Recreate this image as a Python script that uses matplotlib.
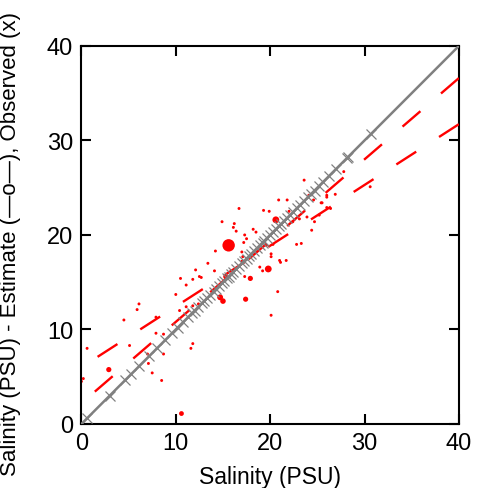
import matplotlib
matplotlib.use("Agg")
import matplotlib.pyplot as plt
import numpy as np

# observed salinity (x) vs estimate (y) for each sample; weight sets dot size
obs_x = [15.6,
         20.6, 19.8, 17.9, 15.3, 14.7, 15.0, 17.4, 2.9, 10.6,
         23.6, 20.9, 21.8, 16.7, 19.3, 19.9, 14.9, 16.2, 16.1, 16.4,
         18.2, 18.5, 17.3, 17.5, 23.1, 23.9, 24.7, 25.2, 22.8, 23.3,
         14.2, 17.0, 20.1, 20.1, 21.0, 21.1, 21.7, 13.4, 12.1, 14.1,
         18.9, 19.2, 17.3, 10.5, 11.8, 12.5, 12.7, 11.1, 20.8, 10.0,
         6.1, 5.9, 10.4, 11.1, 11.8, 12.4, 4.5, 7.9, 20.1, 7.9,
         8.7, 5.1, 11.8, 11.6, 0.6, 0.2, 0.0, 7.1, 7.0, 8.7,
         7.5, 8.5, 17.2, 24.6, 24.1, 25.5, 26.0, 22.0, 22.4, 24.4,
         19.6, 20.3, 17.1, 17.0, 27.8, 30.6, 26.0, 26.9, 25.4, 26.0,
         26.4]
est_y = [18.9,
         21.6, 16.4, 15.4, 15.6, 13.4, 13.0, 13.2, 5.75, 1.1,
         25.8, 23.7, 23.7, 22.8, 22.6, 22.5, 21.4, 21.2, 20.8, 20.4,
         20.6, 20.3, 20.0, 19.6, 21.7, 21.9, 21.4, 22.1, 19.0, 19.1,
         18.3, 18.2, 18.0, 17.7, 17.3, 17.1, 17.3, 17.0, 16.3, 16.2,
         16.6, 16.2, 15.6, 15.4, 15.3, 15.6, 15.5, 14.7, 14.0, 13.7,
         12.7, 12.1, 12.0, 12.4, 12.5, 12.7, 11.0, 11.3, 11.5, 9.6,
         9.5, 8.3, 8.5, 8.0, 8.0, 4.8, 4.5, 6.4, 7.4, 7.4,
         5.4, 4.6, 19.2, 23.7, 24.2, 23.4, 24.0, 22.5, 21.4, 20.5,
         18.9, 19.0, 17.7, 17.2, 26.7, 25.1, 24.2, 24.3, 23.4, 22.9,
         22.8]
weight = [80,
          24, 24, 14, 14, 18, 16, 14, 14, 12] + [4.5] * 81

# observed values (x markers on the 1:1 line)
observed = [0.6, 3.0, 4.6, 5.3, 6.1, 7.2, 8.0, 8.9, 9.6, 10.2, 10.8, 11.3,
            11.7, 12.0, 12.4, 12.8, 13.0, 13.3, 13.6, 14.0, 14.3, 14.6, 14.9,
            15.1, 15.4, 15.6, 15.9, 16.1, 16.4, 16.7, 17.0, 17.2, 17.5, 17.8,
            18.0, 18.3, 18.6, 18.9, 19.2, 19.4, 19.7, 20.0, 20.3, 20.6, 20.9,
            21.2, 21.5, 21.8, 22.1, 22.4, 22.8, 23.2, 23.6, 24.0, 24.3, 24.7,
            25.2, 25.6, 26.2, 27.0, 28.1, 28.3, 30.7]

# fitted regression lines (intercept, slope)
fit_intercepts = [2.2, 6.0]
fit_slopes = [0.86, 0.643]

plt.rcParams["font.family"] = ["Liberation Sans", "DejaVu Sans"]

fig = plt.figure(figsize=(4.79, 4.89), dpi=100)
ax = fig.add_axes([0.170, 0.131, 0.788, 0.773])

ax.scatter(obs_x, est_y, s=weight, color="#ff0000", linewidths=0, zorder=2)

# drawn right-to-left so a dash starts at the right edge
xx = np.array([40, 0])
for b, m in zip(fit_intercepts, fit_slopes):
    ax.plot(xx, b + m * xx, color="#ff0000", lw=1.7, dashes=(10, 11.5), zorder=3)

ax.plot([0, 40], [0, 40], color="#808080", lw=1.8, zorder=4)
ax.plot(observed, observed, ls="none", marker="x", ms=6.5, mew=0.9,
        color="#808080", zorder=5)

ax.set_xlim(0, 40)
ax.set_ylim(0, 40)
ax.set_xticks([0, 10, 20, 30, 40])
ax.set_yticks([0, 10, 20, 30, 40])
ax.tick_params(direction="in", length=7, width=1.5, labelsize=17,
               top=True, right=True, pad=6)
for sp in ax.spines.values():
    sp.set_linewidth(1.5)

ax.set_xlabel("Salinity (PSU)", fontsize=16.5)
ax.xaxis.set_label_coords(0.5, -0.108)
ax.set_ylabel("Salinity (PSU) - Estimate (\u2014o\u2014), Observed (x)", fontsize=16)
ax.yaxis.set_label_coords(-0.16, 0.48)

fig.savefig("out.png", dpi=100)
